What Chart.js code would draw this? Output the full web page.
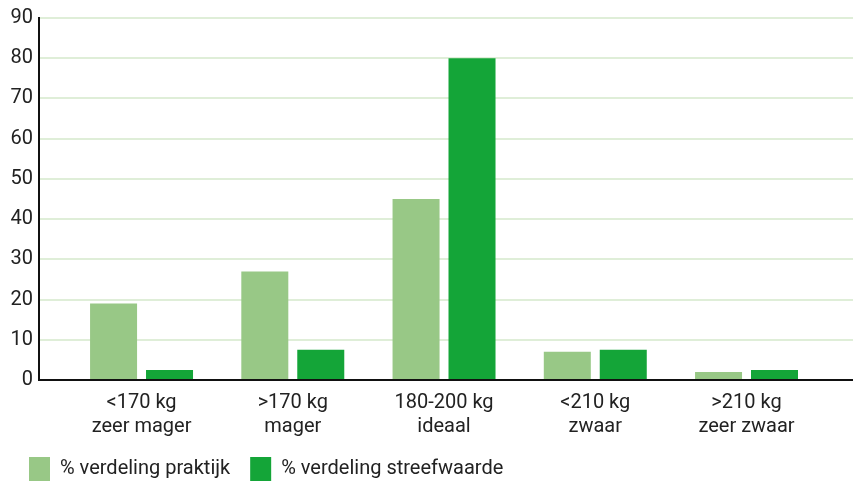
<!DOCTYPE html>
<html>
<head>
<meta charset="utf-8">
<script src="https://cdn.jsdelivr.net/npm/chart.js@4"></script>
<style>
  html, body { margin: 0; padding: 0; background: #fff; overflow: hidden; }
  #wrap { position: relative; width: 853px; height: 491px; }
</style>
</head>
<body>
<div id="wrap"><canvas id="chart"></canvas></div>
<script>
// categorieën (twee regels per label)
const categories = [
  ['<170 kg', 'zeer mager'],
  ['>170 kg', 'mager'],
  ['180-200 kg', 'ideaal'],
  ['<210 kg', 'zwaar'],
  ['>210 kg', 'zeer zwaar']
];
const praktijk = [19, 27, 45, 7, 2];
const streefwaarde = [2.5, 7.5, 80, 7.5, 2.5];
const yTicks = [0, 10, 20, 30, 40, 50, 60, 70, 80, 90];

const toPoints = arr => arr.map((v, i) => ({ x: i, y: v }));

Chart.defaults.font.family = 'Roboto';
Chart.defaults.font.size = 20;
Chart.defaults.color = '#222';

const ctx = document.getElementById('chart').getContext('2d');
new Chart(ctx, {
  type: 'bar',
  data: {
    datasets: [{
      label: '% verdeling praktijk',
      data: toPoints(praktijk),
      backgroundColor: '#98c886',
      borderWidth: 0
    }, {
      label: '% verdeling streefwaarde',
      data: toPoints(streefwaarde),
      backgroundColor: '#14a538',
      borderWidth: 0
    }]
  },
  options: {
    responsive: true,
    maintainAspectRatio: false,
    animation: false,
    categoryPercentage: 0.74,
    barPercentage: 0.84,
    layout: { padding: { top: 18, left: 9, right: 0, bottom: 0 } },
    plugins: {
      tooltip: { enabled: false },
      legend: {
        position: 'bottom',
        align: 'start',
        labels: {
          boxWidth: 21,
          boxHeight: 24,
          padding: 20,
          color: '#222',
          font: { size: 20 }
        }
      }
    },
    scales: {
      x: {
        type: 'linear',
        offset: false,
        min: -0.678,
        max: 4.704,
        grid: { display: false },
        border: { color: '#111', width: 2 },
        afterFit: s => { s.height = 57; },
        afterBuildTicks: s => { s.ticks = categories.map((c, i) => ({ value: i })); },
        ticks: {
          autoSkip: false,
          maxRotation: 0,
          padding: 3,
          callback: v => categories[v]
        }
      },
      y: {
        min: 0,
        max: 90,
        afterFit: s => { s.width = 30; },
        afterBuildTicks: s => { s.ticks = yTicks.map(v => ({ value: v })); },
        grid: { color: '#dfeed8', lineWidth: 2, drawTicks: false },
        border: { color: '#111', width: 2 },
        ticks: { padding: 6 }
      }
    }
  }
});
</script>
</body>
</html>
